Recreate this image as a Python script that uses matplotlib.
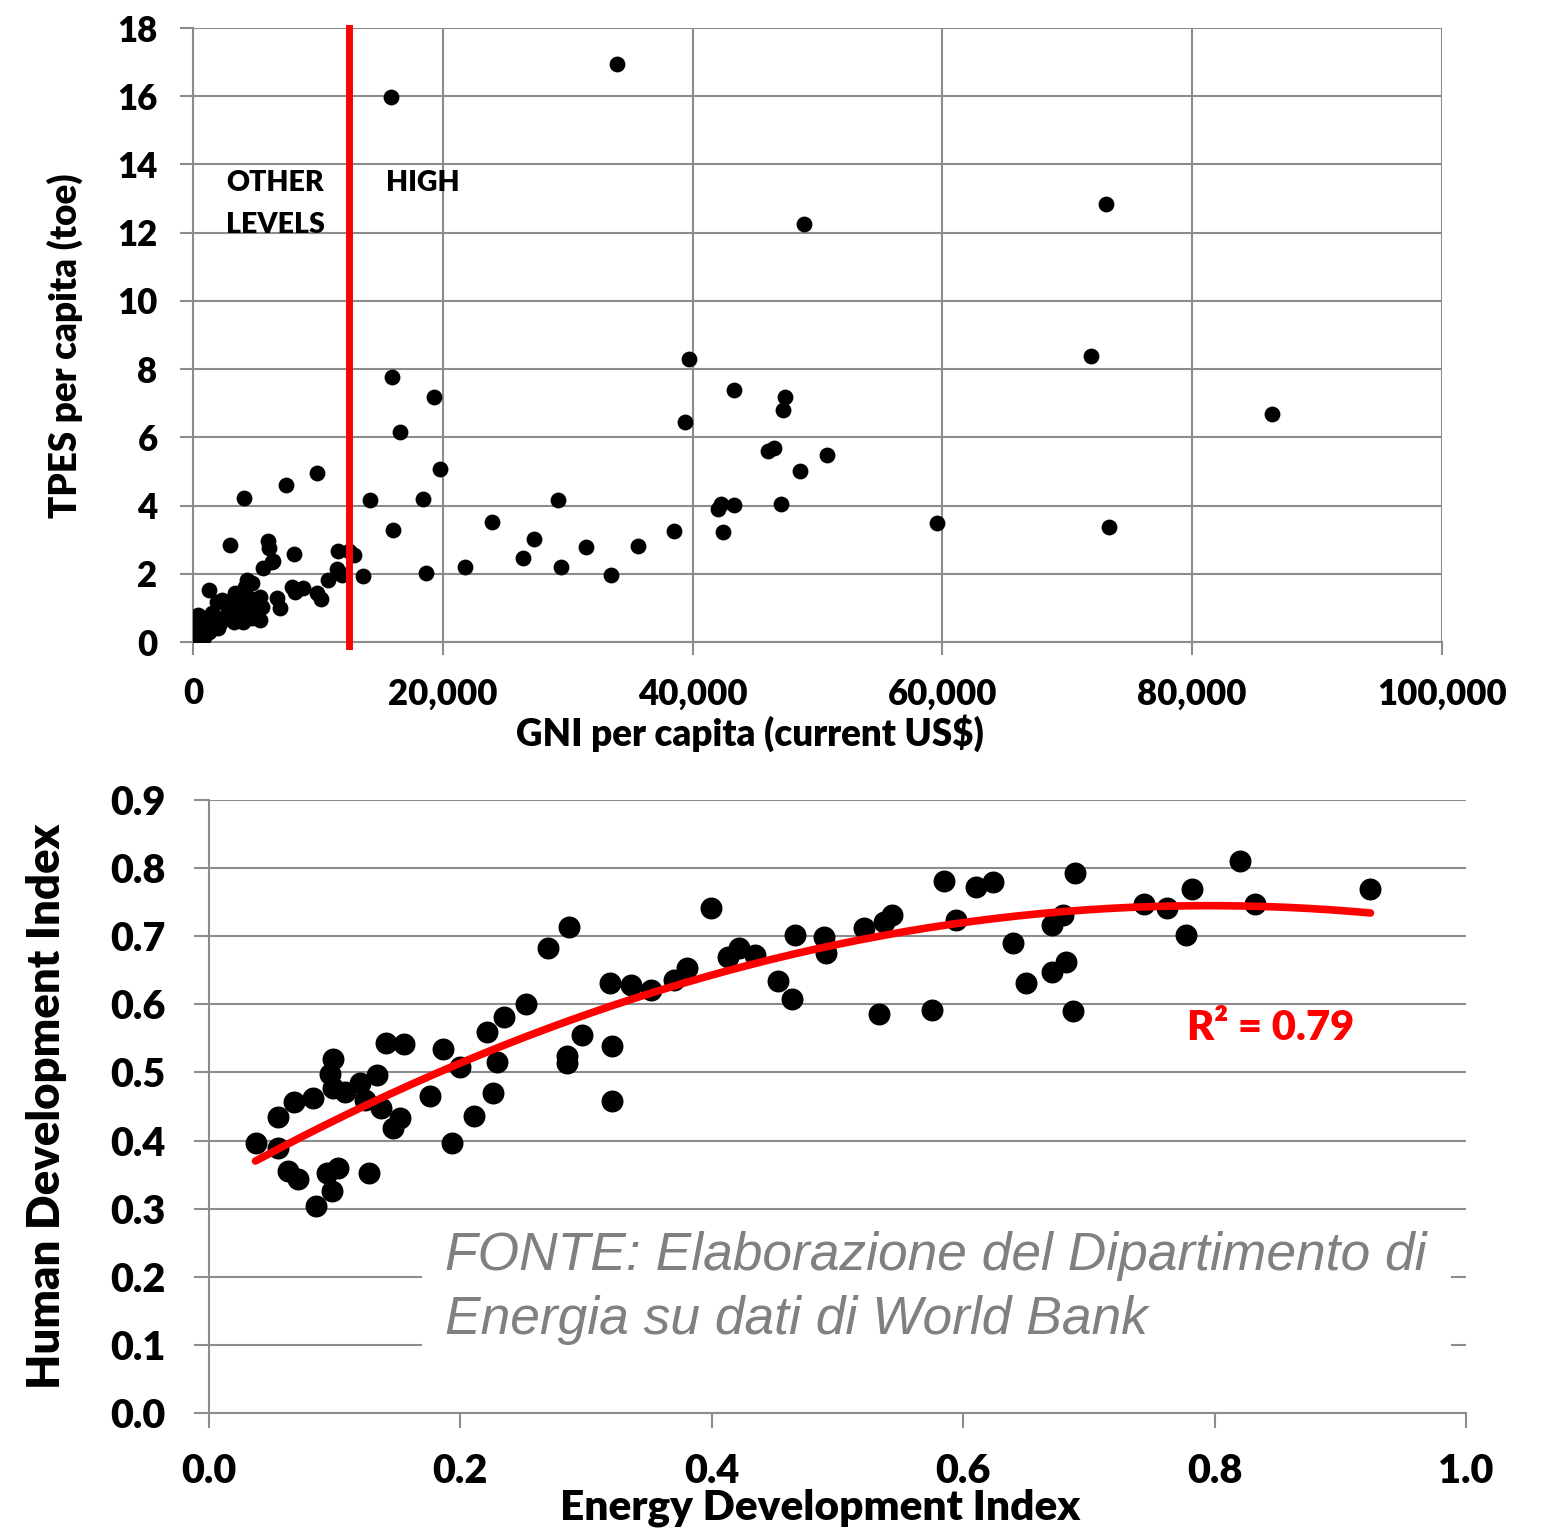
import matplotlib
matplotlib.use("Agg")
import matplotlib.pyplot as plt
from matplotlib.patches import Rectangle
from matplotlib.ticker import FuncFormatter
import numpy as np

# ---------------- data: top chart (GNI per capita vs TPES per capita) -------------
gni = [  # current US$
    15850, 33950, 73100, 48900, 71900, 39700, 15900, 43300, 47400, 19300,
    47200, 86400, 39400, 16600, 46000, 46500, 50800, 48600, 19800, 9900,
    7450, 4100, 14200, 18400, 29200, 42250, 42060, 43300, 47100, 59600,
    73300, 23900, 16000, 38500, 42400, 27300, 35600, 31500, 26400, 3000,
    6000, 6100, 6400, 8100, 11600, 12500, 12900, 21800, 29500, 33500,
    18650, 13600, 11900, 11500, 10800, 5630, 4700, 4300, 4160, 1280,
    7900, 8170, 8800, 9900, 10250, 6700, 6970, 4430, 4830, 5360,
    3360, 3500, 1900, 2300, 2700, 420, 160, 420, 820, 1220,
    1760, 2030, 2560, 3100, 3630, 4030, 4700, 5100, 5360, 5500,
    4700, 3900, 2830, 6300, 600, 1000, 1500, 300, 1300, 2200,
    3300, 900, 11800,
]
tpes = [  # toe per capita
    15.98, 16.95, 12.84, 12.26, 8.39, 8.29, 7.78, 7.39, 7.18, 7.19,
    6.80, 6.69, 6.46, 6.17, 5.60, 5.68, 5.48, 5.02, 5.06, 4.94,
    4.60, 4.23, 4.16, 4.20, 4.16, 4.05, 3.90, 4.01, 4.05, 3.49,
    3.37, 3.53, 3.28, 3.26, 3.23, 3.01, 2.82, 2.78, 2.45, 2.84,
    2.97, 2.76, 2.38, 2.57, 2.68, 2.68, 2.55, 2.21, 2.21, 1.96,
    2.01, 1.94, 1.96, 2.13, 1.81, 2.16, 1.72, 1.82, 1.62, 1.52,
    1.62, 1.48, 1.58, 1.43, 1.25, 1.28, 0.99, 1.33, 1.23, 1.33,
    1.44, 1.33, 1.18, 1.23, 1.09, 0.79, 0.35, 0.11, 0.26, 0.45,
    0.60, 0.40, 0.74, 0.84, 0.74, 0.60, 0.70, 0.84, 0.65, 1.04,
    0.99, 1.04, 0.94, 2.35, 0.55, 0.70, 0.85, 0.25, 0.30, 0.55,
    0.60, 0.15, 2.01,
]
high_income_threshold = 12476
gni_ticks = [0, 20000, 40000, 60000, 80000, 100000]
tpes_ticks = [0, 2, 4, 6, 8, 10, 12, 14, 16, 18]

# ---------------- data: bottom chart (EDI vs HDI) -----------------------------------
edi = [
    0.037, 0.055, 0.055, 0.063, 0.071, 0.068, 0.083, 0.085, 0.094, 0.103,
    0.098, 0.096, 0.099, 0.099, 0.108, 0.120, 0.124, 0.134, 0.127, 0.141,
    0.155, 0.137, 0.146, 0.152, 0.176, 0.186, 0.193, 0.200, 0.211, 0.221,
    0.226, 0.229, 0.235, 0.252, 0.270, 0.286, 0.285, 0.285, 0.297, 0.319,
    0.321, 0.321, 0.336, 0.352, 0.370, 0.380, 0.399, 0.413, 0.422, 0.434,
    0.453, 0.464, 0.466, 0.489, 0.491, 0.521, 0.533, 0.537, 0.543, 0.575,
    0.585, 0.594, 0.610, 0.624, 0.640, 0.650, 0.671, 0.679, 0.671, 0.682,
    0.687, 0.689, 0.744, 0.762, 0.777, 0.782, 0.820, 0.832, 0.924,
]
hdi = [
    0.396, 0.435, 0.389, 0.355, 0.344, 0.457, 0.463, 0.304, 0.352, 0.360,
    0.326, 0.498, 0.520, 0.477, 0.471, 0.484, 0.460, 0.496, 0.353, 0.543,
    0.542, 0.448, 0.419, 0.433, 0.466, 0.535, 0.397, 0.508, 0.436, 0.559,
    0.470, 0.516, 0.582, 0.600, 0.683, 0.714, 0.524, 0.514, 0.555, 0.632,
    0.539, 0.458, 0.628, 0.621, 0.636, 0.653, 0.742, 0.670, 0.682, 0.673,
    0.634, 0.608, 0.702, 0.699, 0.676, 0.712, 0.586, 0.721, 0.731, 0.591,
    0.781, 0.724, 0.772, 0.780, 0.690, 0.631, 0.716, 0.731, 0.648, 0.662,
    0.590, 0.793, 0.747, 0.742, 0.702, 0.769, 0.811, 0.748, 0.769,
]
trend_coeffs = [-0.6518, 1.0369, 0.3325]   # quadratic trendline (c2, c1, c0)
trend_range = [0.037, 0.924]
r2_label = "R² = 0.79"
edi_ticks = [0.0, 0.2, 0.4, 0.6, 0.8, 1.0]
hdi_ticks = [0.0, 0.1, 0.2, 0.3, 0.4, 0.5, 0.6, 0.7, 0.8, 0.9]
source_text = "FONTE: Elaborazione del Dipartimento di\nEnergia su dati di World Bank"

# ---------------- styling ---------------------------------------------------------
plt.rcParams['font.family'] = ['Lato', 'DejaVu Sans']
WEIGHT = 'heavy'
plt.rcParams['font.weight'] = WEIGHT
GRID = '#8c8c8c'
W, H = 1547, 1528
fig = plt.figure(figsize=(W / 100, H / 100), dpi=100)

def axes_px(left, top, right, bottom):
    return fig.add_axes([left / W, 1 - bottom / H, (right - left) / W, (bottom - top) / H])

def style(ax, pad, size):
    ax.set_axisbelow(True)
    for s in ['top', 'right']:
        ax.spines[s].set_visible(False)
    for s in ['left', 'bottom']:
        ax.spines[s].set_color(GRID)
        ax.spines[s].set_linewidth(1.5)
    ax.tick_params(direction='out', length=9.5, width=1.5, color=GRID,
                   labelsize=size, labelcolor='black', pad=pad)
    for lab in ax.get_xticklabels() + ax.get_yticklabels():
        lab.set_fontweight(WEIGHT)

# ---------------- top chart --------------------------------------------------------
ax1 = axes_px(193, 28, 1442, 642)
ax1.set_xlim(0, 100000)
ax1.set_ylim(0, 18)
ax1.set_xticks(gni_ticks)
ax1.set_yticks(tpes_ticks)
ax1.xaxis.set_major_formatter(FuncFormatter(lambda v, p: f"{int(v):,}"))
ax1.grid(True, color=GRID, linewidth=1.5)
style(ax1, 16, 25)
ax1.scatter(gni, tpes, s=130, color='black', zorder=3, linewidths=0)
ax1.axvline(high_income_threshold, ymin=-0.006, ymax=1.0, color='#ff0000',
            linewidth=5, zorder=4, clip_on=False)
ax1.text(2640, 13.46, "OTHER", fontsize=20.5, fontweight=WEIGHT, va='center', ha='left')
ax1.text(2640, 12.23, "LEVELS", fontsize=20.5, fontweight=WEIGHT, va='center', ha='left')
ax1.text(15450, 13.46, "HIGH", fontsize=20.5, fontweight=WEIGHT, va='center', ha='left')

fig.text(750 / W, 1 - 733 / H, "GNI per capita (current US$)", fontsize=26.5,
         fontweight=WEIGHT, ha='center', va='center')
fig.text(65 / W, 1 - 346 / H, "TPES per capita (toe)", fontsize=26.5,
         fontweight=WEIGHT, ha='center', va='center', rotation=90)

# ---------------- bottom chart -----------------------------------------------------
ax2 = axes_px(209, 800, 1466, 1413)
ax2.set_xlim(0, 1.0)
ax2.set_ylim(0, 0.9)
ax2.set_xticks(edi_ticks)
ax2.set_yticks(hdi_ticks)
ax2.xaxis.set_major_formatter(FuncFormatter(lambda v, p: f"{v:.1f}"))
ax2.yaxis.set_major_formatter(FuncFormatter(lambda v, p: f"{v:.1f}"))
ax2.yaxis.grid(True, color=GRID, linewidth=1.5)
style(ax2, 20, 28.5)
ax2.tick_params(axis='y', length=11)
ax2.tick_params(axis='x', length=10.5, pad=18)

ax2.scatter(edi, hdi, s=250, color='black', zorder=3, linewidths=0)
xs = np.linspace(trend_range[0], trend_range[1], 200)
ax2.plot(xs, np.polyval(trend_coeffs, xs), color='#ff0000', linewidth=5.5,
         solid_capstyle='round', zorder=4)
ax2.text(0.778, 0.565, r2_label, color='#ff0000', fontsize=30, fontweight=WEIGHT,
         va='center', ha='left', zorder=5)

ax2.add_patch(Rectangle((0.1695, 0.05), 0.8185, 0.23, transform=ax2.transAxes,
                        facecolor='white', edgecolor='none', zorder=1))
ax2.text(0.188, 0.1836, source_text, fontsize=38.4, style='italic', fontweight='normal',
         family=['Liberation Sans', 'DejaVu Sans'], color='#808080',
         va='center', ha='left', linespacing=1.35, zorder=5)

fig.text(47 / W, 1 - 1106 / H, "Human Development Index", fontsize=32.8,
         fontweight=WEIGHT, ha='center', va='center', rotation=90)
fig.text(820 / W, 1 - 1508 / H, "Energy Development Index", fontsize=30.5,
         fontweight=WEIGHT, ha='center', va='center')

fig.savefig("out.png", dpi=100)
